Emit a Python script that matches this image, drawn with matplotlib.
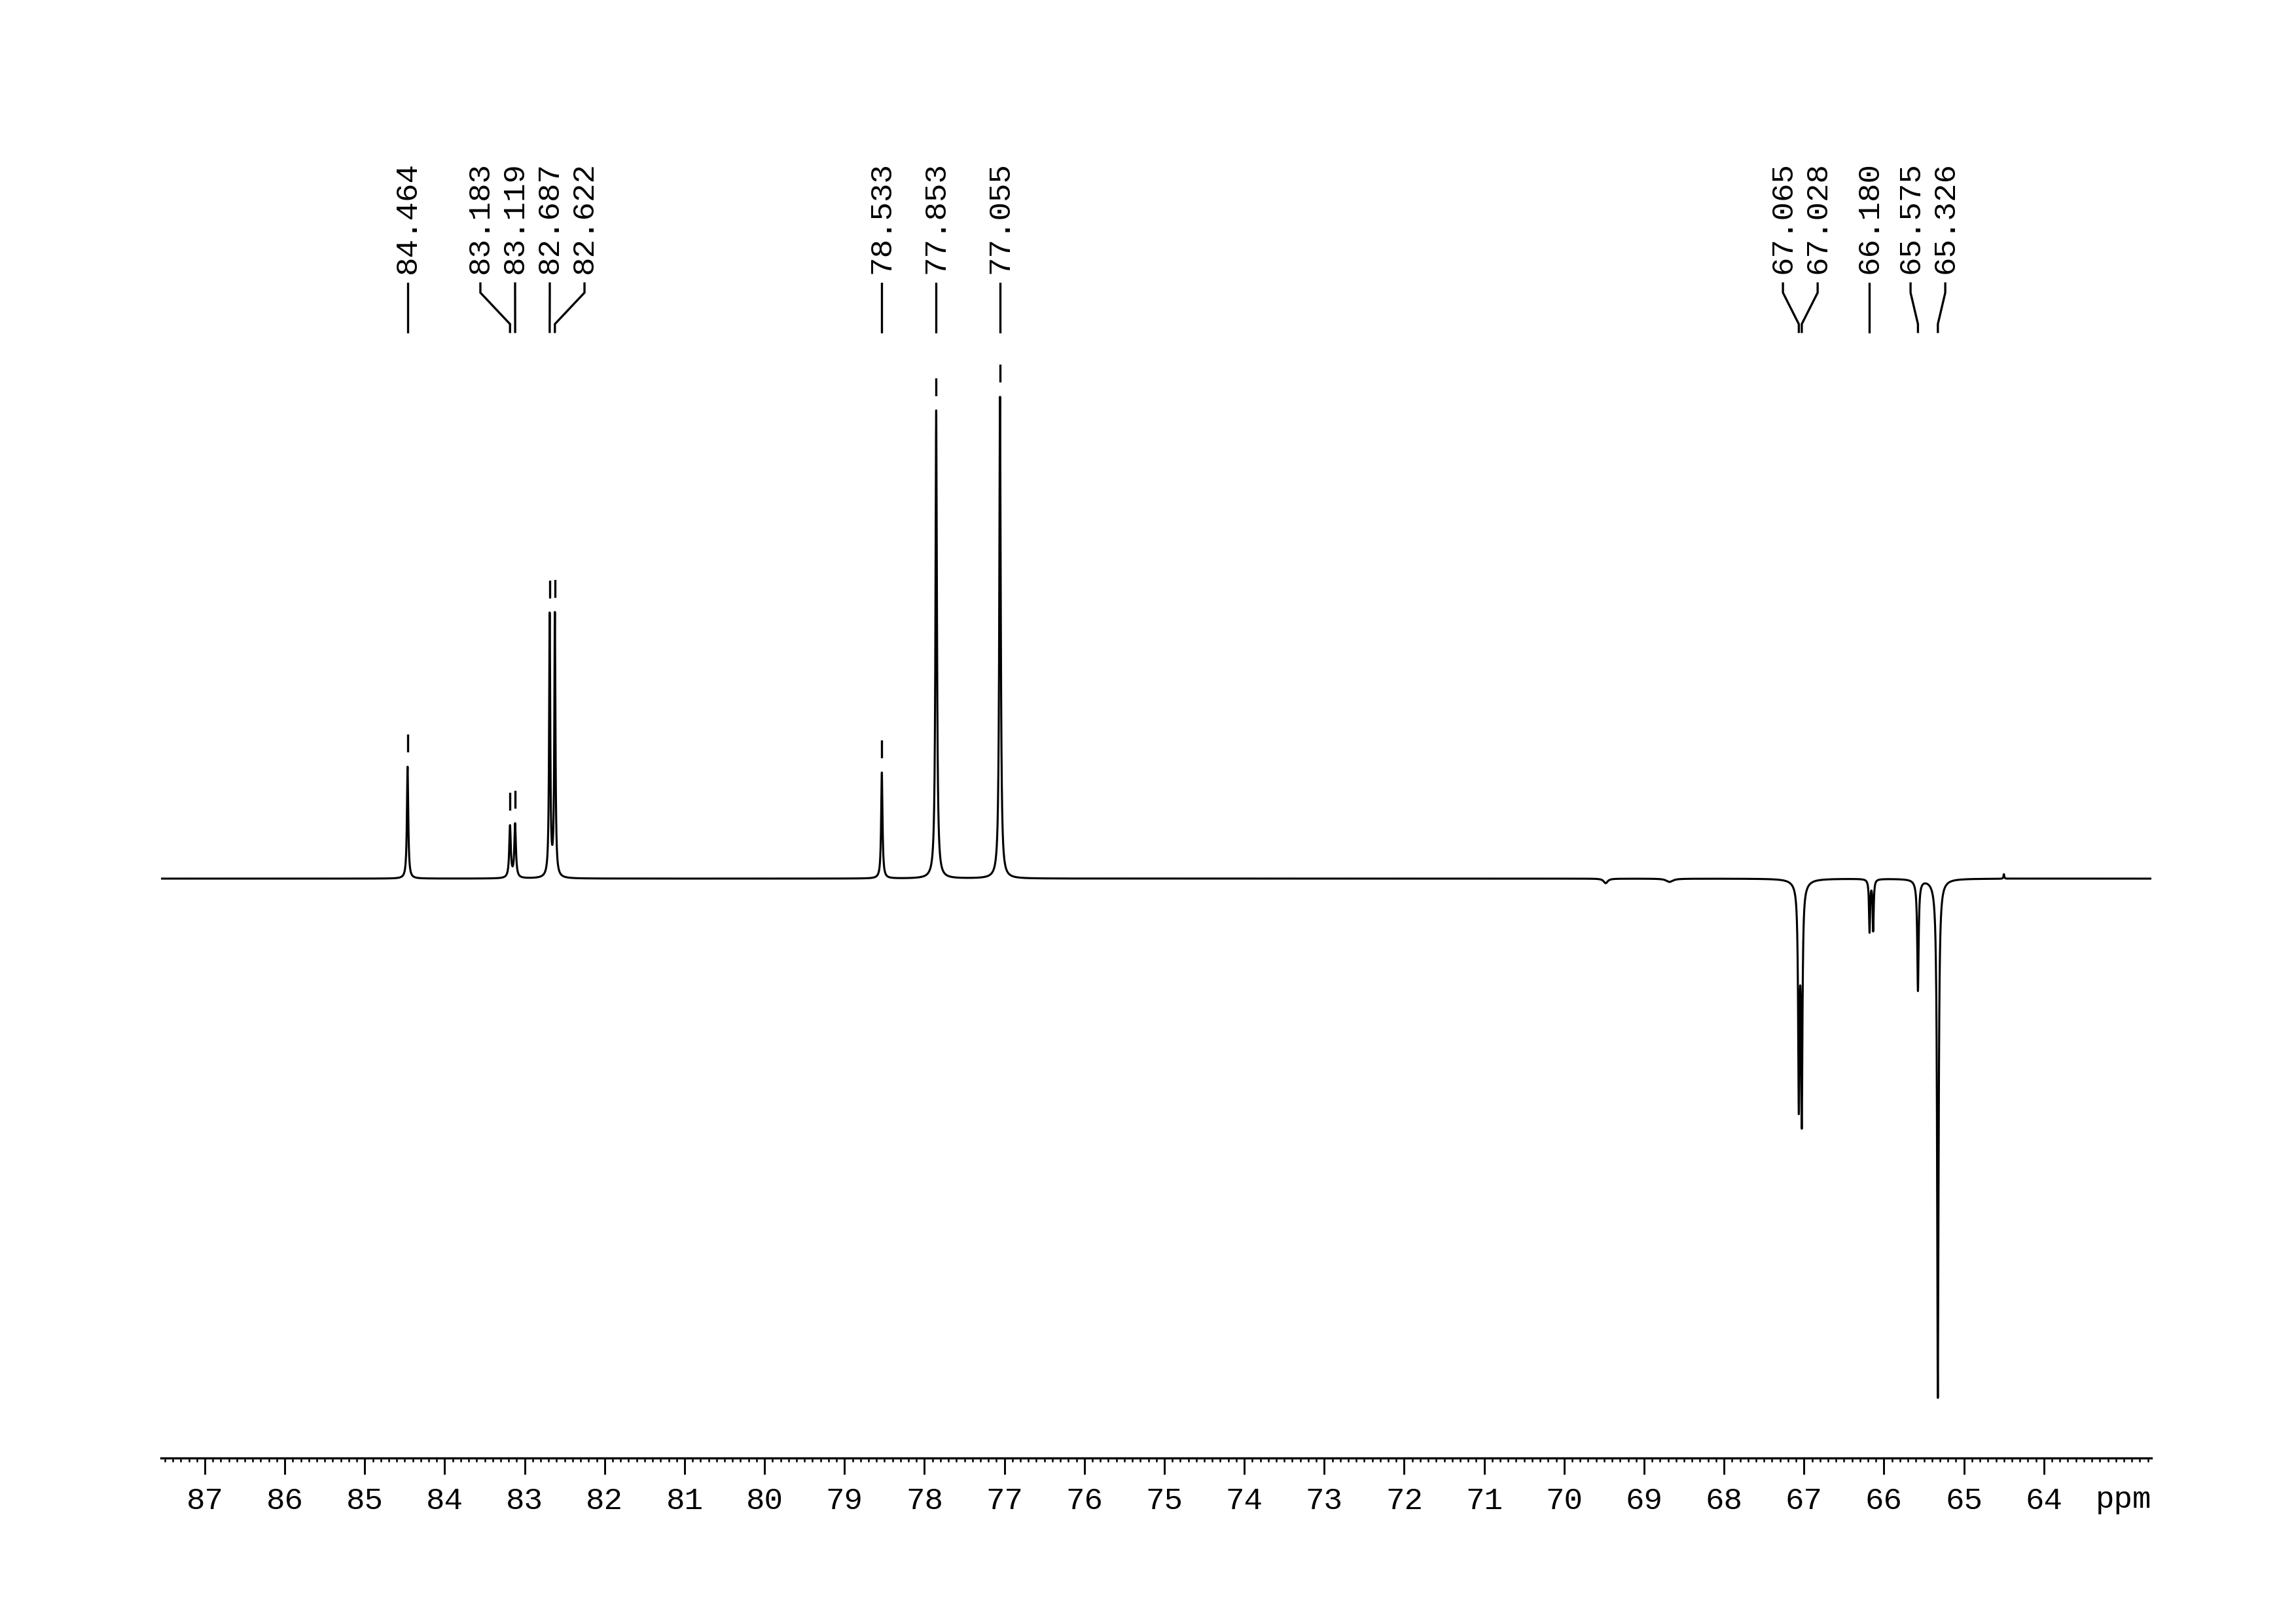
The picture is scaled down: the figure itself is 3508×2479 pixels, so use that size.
import numpy as np
import matplotlib
matplotlib.use("Agg")
import matplotlib.pyplot as plt
from matplotlib.transforms import blended_transform_factory

plt.rcParams['font.family'] = ['Liberation Mono', 'DejaVu Sans Mono']

# ---- peak list (shift in ppm, intensity, half width in ppm)
peak_ppm = [84.464, 83.183, 83.119, 82.687, 82.622, 78.533, 77.853, 77.055,
            67.065, 67.028, 66.180, 66.135, 65.575, 65.326]
peak_int = [171, 79, 82, 400, 401, 162, 715, 736,
            -327, -350, -80, -78, -165, -785]
peak_hw = [0.010, 0.0115, 0.0115, 0.0085, 0.0085, 0.010, 0.011, 0.011,
           0.010, 0.010, 0.008, 0.008, 0.010, 0.0105]

# small broad baseline features
broad_ppm = [67.04, 65.33, 65.58, 69.48, 68.68, 64.50]
broad_int = [-10, -8, -5, -7, -5, 7]
broad_hw = [0.08, 0.06, 0.04, 0.03, 0.05, 0.006]

# picked peak labels
label_ppm = [84.464, 83.183, 83.119, 82.687, 82.622, 78.533, 77.853, 77.055,
             67.065, 67.028, 66.180, 65.575, 65.326]
label_txt = ["84.464", "83.183", "83.119", "82.687", "82.622", "78.533", "77.853",
             "77.055", "67.065", "67.028", "66.180", "65.575", "65.326"]

major_ticks = list(range(64, 88))
x_left, x_right = 87.548, 62.656

# ---- build spectrum
x = np.linspace(x_right, x_left, 30000)
y = np.zeros_like(x)
for p, a, w in zip(peak_ppm + broad_ppm, peak_int + broad_int, peak_hw + broad_hw):
    y += a * w**2 / ((x - p)**2 + w**2)

W, H = 3508, 2479
DPI = 300
fig = plt.figure(figsize=(W / DPI, H / DPI), dpi=DPI)

ax_l, ax_r = 246, 3287
ax_bot, ax_top = 2227, 520
base_px = 1342
ax = fig.add_axes([ax_l / W, (H - ax_bot) / H, (ax_r - ax_l) / W, (ax_bot - ax_top) / H])
ax.plot(x, y, color='black', lw=0.75)
ax.set_xlim(x_left, x_right)
ax.set_ylim(-(ax_bot - base_px), base_px - ax_top)

for s in ['top', 'left', 'right']:
    ax.spines[s].set_visible(False)
ax.spines['bottom'].set_linewidth(0.8)
ax.set_yticks([])
ax.set_xticks(major_ticks)
ax.set_xticklabels([str(t) for t in major_ticks])
ax.set_xticks(np.arange(62.7, 87.55, 0.1), minor=True)
ax.tick_params(axis='x', which='major', direction='out', length=6, width=0.7,
               pad=4.5, labelsize=11.4)
ax.tick_params(axis='x', which='minor', direction='out', length=1.5, width=0.6)

def fy(px):
    return (H - px) / H

ax.text(1.0, fy(2303), "ppm", transform=blended_transform_factory(ax.transAxes, fig.transFigure),
        ha='right', va='baseline', fontsize=11.4)

# ---- label placement (spread overlapping labels)
d = 0.434
groups = [[i] for i in range(len(label_ppm))]

def positions(g):
    c = np.mean([label_ppm[i] for i in g])
    n = len(g)
    return [c + d * ((n - 1) / 2 - k) for k in range(n)]

changed = True
while changed:
    changed = False
    for k in range(len(groups) - 1):
        a = positions(groups[k])[-1]
        b = positions(groups[k + 1])[0]
        if a - b < d - 1e-9:
            groups[k] = groups[k] + groups[k + 1]
            del groups[k + 1]
            changed = True
            break

lab_pos = {}
for g in groups:
    for i, p in zip(g, positions(g)):
        lab_pos[i] = p

tr = blended_transform_factory(ax.transData, fig.transFigure)
for i, p in enumerate(label_ppm):
    lp = lab_pos[i]
    ax.plot([lp, lp, p, p], [fy(433), fy(447), fy(495), fy(507)], color='black',
            lw=0.8, transform=tr, clip_on=False, solid_joinstyle='miter')
    ax.text(lp, fy(418), label_txt[i], rotation=90, ha='center', va='bottom',
            fontsize=11.4, transform=tr)
    # peak marker above positive peaks
    j = np.argmin(np.abs(x - p))
    top = y[max(j - 5, 0):j + 6].max()
    if top > 0:
        ax.plot([p, p], [top + 24, top + 48], color='black', lw=0.8, clip_on=False)

fig.savefig("out.png", dpi=DPI)
